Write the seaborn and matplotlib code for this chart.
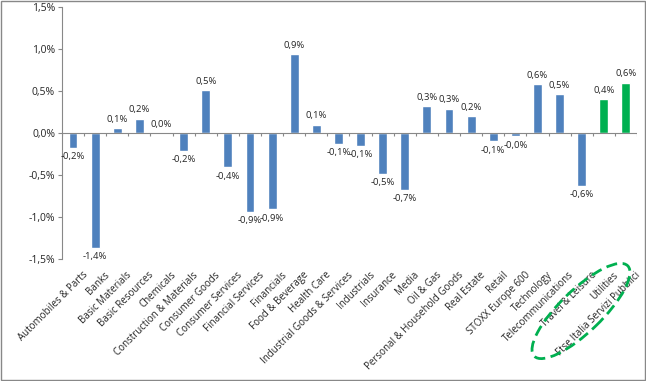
import numpy as np
import pandas as pd
import matplotlib
matplotlib.use("Agg")
import matplotlib.pyplot as plt
import matplotlib.transforms as mtransforms
import seaborn as sns
from matplotlib.patches import Ellipse, Rectangle

sectors = ["Automobiles & Parts", "Banks", "Basic Materials", "Basic Resources", "Chemicals",
           "Construction & Materials", "Consumer Goods", "Consumer Services", "Financial Services",
           "Financials", "Food & Beverage", "Health Care", "Industrial Goods & Services", "Industrials",
           "Insurance", "Media", "Oil & Gas", "Personal & Household Goods", "Real Estate", "Retail",
           "STOXX Europe 600", "Technology", "Telecommunications", "Travel & Leisure", "Utilities",
           "Ftse Italia Servizi Pubblici"]
changes = [-0.18, -1.37, 0.06, 0.17, 0.003, -0.21, 0.51, -0.41, -0.94, -0.91, 0.94, 0.10,
           -0.13, -0.15, -0.49, -0.68, 0.32, 0.29, 0.20, -0.10, -0.04, 0.58, 0.46, -0.63, 0.40, 0.60]
highlight = ["Utilities", "Ftse Italia Servizi Pubblici"]

blue = "#4F81BD"
green = "#00B050"

df = pd.DataFrame({"sector": sectors, "change": changes})
colors = [green if s in highlight else blue for s in sectors]

sns.set_style("white")
plt.rcParams["font.family"] = ["Open Sans", "DejaVu Sans"]

fig = plt.figure(figsize=(6.46, 3.81), dpi=100)
ax = fig.add_axes([0.096, 0.32, 0.89, 0.662])
sns.barplot(data=df, x="sector", y="change", hue="sector", palette=colors,
            legend=False, width=0.4, ax=ax, saturation=1)

ax.set_ylim(-1.5, 1.5)
ax.set_xlim(-0.5, len(sectors) - 0.5)
ax.set_yticks(np.arange(-1.5, 1.51, 0.5))
ax.set_yticklabels([f"{v:.1f}%".replace(".", ",") for v in np.arange(-1.5, 1.51, 0.5)], fontsize=7.5)
ax.tick_params(axis="y", length=3, color="#888888", pad=2, left=True)
ax.set_xticks(range(len(sectors)))
ax.set_xticklabels(sectors, rotation=45, ha="right", rotation_mode="anchor", fontsize=7)
ax.tick_params(axis="x", length=0, pad=4)
# Excel puts the category labels a little right of and below the tick
shift = mtransforms.ScaledTranslation(0.09, -0.05, fig.dpi_scale_trans)
for lab in ax.get_xticklabels():
    lab.set_transform(lab.get_transform() + shift)
ax.set_xlabel("")
ax.set_ylabel("")
for s in ["top", "right", "bottom"]:
    ax.spines[s].set_visible(False)
ax.spines["left"].set_color("#888888")
ax.axhline(0, color="#888888", lw=0.8)
ax.vlines(np.arange(-0.5, len(sectors)), -0.04, 0, color="#888888", lw=0.8)

for i, v in enumerate(changes):
    txt = f"{v:.1f}%".replace(".", ",")
    if v >= 0:
        ax.text(i, v + 0.05, txt, ha="center", va="bottom", fontsize=6.8)
    else:
        ax.text(i, v - 0.05, txt, ha="center", va="top", fontsize=6.8)

# dashed green ring around the two highlighted labels
ell = Ellipse((5.81, 0.70), 1.30, 0.42, angle=44,
              transform=fig.dpi_scale_trans, fill=False, ec=green, lw=2, ls=(0, (4, 2)))
fig.patches.append(ell)
fig.patches.append(Rectangle((0.001, 0.002), 0.997, 0.995, transform=fig.transFigure,
                             fill=False, ec="#888888", lw=1))

fig.savefig("out.png", dpi=100)
